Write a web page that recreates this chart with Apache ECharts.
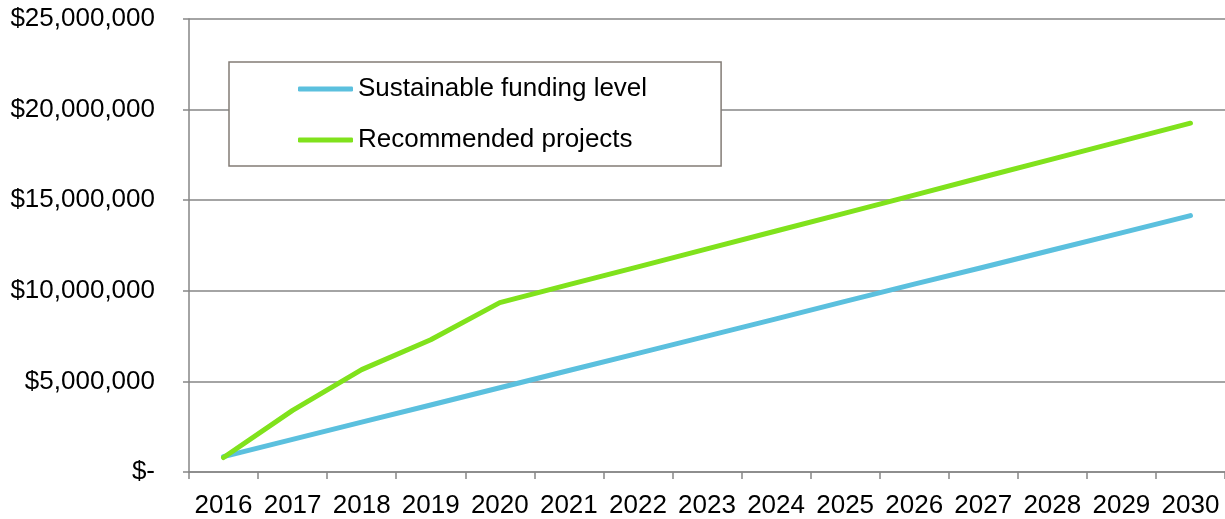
<!DOCTYPE html>
<html>
<head>
<meta charset="utf-8">
<script src="https://cdn.jsdelivr.net/npm/echarts@6/dist/echarts.min.js"></script>
<style>
html,body{margin:0;padding:0;background:#fff;}
#chart{width:1225px;height:519px;}
</style>
</head>
<body>
<div id="chart"></div>
<script>
var years = ['2016','2017','2018','2019','2020','2021','2022','2023','2024','2025','2026','2027','2028','2029','2030'];
var sustainableFunding = [850000, 1800000, 2750000, 3700000, 4650000, 5600000, 6550000, 7500000, 8450000, 9420000, 10370000, 11300000, 12250000, 13200000, 14150000];
var recommendedProjects = [800000, 3400000, 5650000, 7300000, 9350000, 10340000, 11320000, 12310000, 13300000, 14290000, 15280000, 16280000, 17270000, 18260000, 19250000];
var seriesNames = ['Sustainable funding level', 'Recommended projects'];

var FONT = '"Liberation Sans", Arial, sans-serif';
var chart = echarts.init(document.getElementById('chart'), null, {renderer: 'canvas'});
chart.setOption({
  animation: false,
  backgroundColor: '#ffffff',
  grid: {left: 189, right: 0, top: 19, bottom: 46, containLabel: false},
  legend: {
    orient: 'vertical',
    left: 229, top: 62,
    padding: [12, 74, 11, 69],
    backgroundColor: '#ffffff',
    borderColor: '#837c76',
    borderWidth: 1.5,
    itemWidth: 55,
    itemHeight: 5,
    itemGap: 21,
    icon: 'roundRect',
    textStyle: {fontFamily: FONT, fontSize: 26, color: '#000', lineHeight: 30},
    data: seriesNames
  },
  xAxis: {
    type: 'category',
    data: years,
    boundaryGap: true,
    axisLine: {show: true, lineStyle: {color: '#868686', width: 1.5}},
    axisTick: {show: true, length: 7, lineStyle: {color: '#868686', width: 1.5}},
    axisLabel: {fontFamily: FONT, fontSize: 26, color: '#000', margin: 21, interval: 0},
    splitLine: {show: false}
  },
  yAxis: {
    type: 'value',
    min: 0, max: 25000000, interval: 5000000,
    axisLine: {show: true, lineStyle: {color: '#868686', width: 1.5}},
    axisTick: {show: true, length: 6, lineStyle: {color: '#868686', width: 1.5}},
    axisLabel: {
      fontFamily: FONT, fontSize: 26, color: '#000', margin: 34,
      formatter: function (v) {
        if (v === 0) return '$-';
        return '$' + v.toString().replace(/\B(?=(\d{3})+(?!\d))/g, ',');
      }
    },
    splitLine: {show: true, lineStyle: {color: '#868686', width: 1.5}}
  },
  series: [
    {
      name: seriesNames[0], type: 'line', data: sustainableFunding,
      symbol: 'none', smooth: false,
      itemStyle: {color: '#5bc0de'},
      lineStyle: {color: '#5bc0de', width: 5, cap: 'round', join: 'round'}
    },
    {
      name: seriesNames[1], type: 'line', data: recommendedProjects,
      symbol: 'none', smooth: false,
      itemStyle: {color: '#80e21c'},
      lineStyle: {color: '#80e21c', width: 5, cap: 'round', join: 'round'}
    }
  ]
});
</script>
</body>
</html>
